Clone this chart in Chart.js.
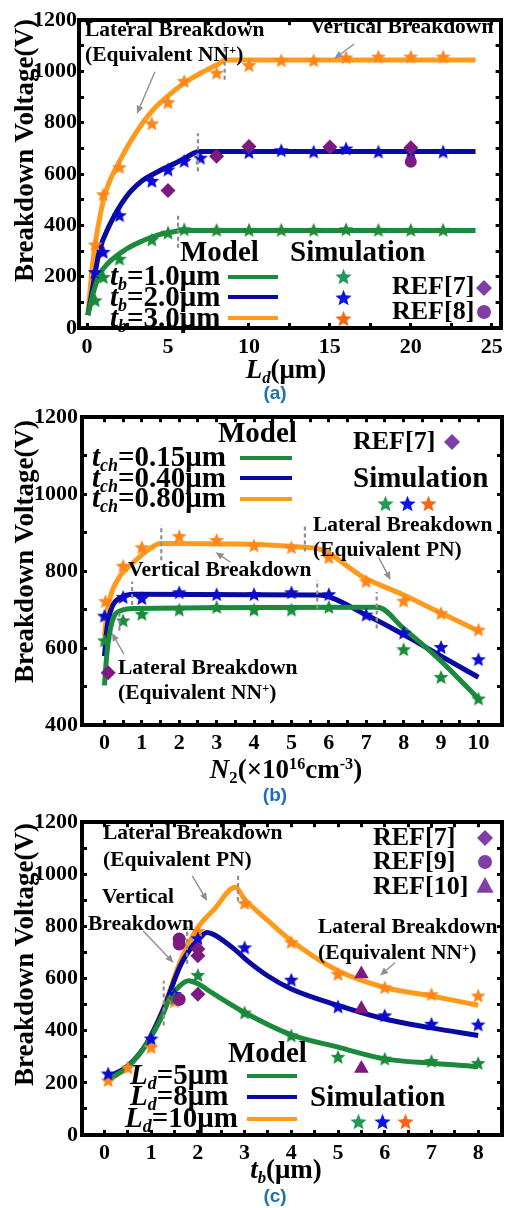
<!DOCTYPE html>
<html><head><meta charset="utf-8">
<script src="https://cdn.jsdelivr.net/npm/chart.js@4.4.1/dist/chart.umd.min.js"></script>
<style>
body{margin:0;background:#fff;}
#wrap{position:relative;width:514px;height:1208px;overflow:hidden;background:#fff;}
canvas{position:absolute;left:0;}
.t{position:absolute;white-space:nowrap;font-family:'Liberation Serif','Times New Roman',serif;font-weight:bold;color:#000;line-height:1;z-index:5;}
.cap{position:absolute;font-family:'Liberation Sans',Arial,sans-serif;font-weight:bold;color:#1f6fb3;line-height:1;z-index:5;text-align:center;}
.ln{position:absolute;height:4px;z-index:5;}
.sb{font-size:0.62em;position:relative;top:0.28em;font-style:italic;}
.sp{font-size:0.6em;position:relative;top:-0.55em;}
</style></head><body><div id="wrap">
<canvas id="ca" width="514" height="385" style="top:0px"></canvas>
<canvas id="cb" width="514" height="385" style="top:395px"></canvas>
<canvas id="cc" width="514" height="385" style="top:800px"></canvas>
</div>
<script>
// ---------- Panel (a): breakdown voltage vs Ld ----------
const aModel10X = [0.05,0.35,0.75,1.35,2.4,3.4,4.45,5.5,5.75,24];
const aModel10Y = [50,130,206,256,307,339,364,377,380,380];
const aModel20X = [0.05,0.35,0.75,1.35,2.4,3.4,4.45,5.5,6.2,6.9,24];
const aModel20Y = [50,158,298,396,510,574,612,644,668,688,688];
const aModel30X = [0.05,0.35,0.75,1.15,2,3,4,5,6,7,8,8.6,24];
const aModel30Y = [50,256,420,530,650,760,845,905,955,993,1025,1045,1045];
const aSim10X = [0.5,1,2,4,5,6,8,10,12,14,16,18,20,22];
const aSim10Y = [108,199,270,345,372,385,383,383,383,383,385,383,383,383];
const aSim20X = [0.5,1,2,4,5,6,7,10,12,14,16,18,20,22];
const aSim20Y = [218,297,440,574,618,652,664,686,693,688,700,688,688,688];
const aSim30X = [0.5,1,2,4,5,6,8,10,12,14,16,18,20,22];
const aSim30Y = [326,521,627,798,880,963,995,1025,1044,1044,1055,1058,1058,1058];
const aRef7X = [5,8,10,15,20];
const aRef7Y = [536,670,708,706,703];
const aRef8X = [20];
const aRef8Y = [648];
const aXTicks = [0,2.5,5,7.5,10,12.5,15,17.5,20,22.5,25];
const aXLabels = [0,5,10,15,20,25];
const aYTicks = [0,100,200,300,400,500,600,700,800,900,1000,1100,1200];
const aYLabels = [0,200,400,600,800,1000,1200];

// ---------- Panel (b): breakdown voltage vs N2 ----------
const bModel015X = [0,0.07,0.2,0.43,0.8,7.3,8,9,10];
const bModel015Y = [503,590,667,697,703,706,651,566,468];
const bModel040X = [0,0.07,0.2,0.43,0.8,5.7,7,8,9,10];
const bModel040Y = [579,652,706,731,740,738,686,635,579,524];
const bModel080X = [0,0.07,0.2,0.43,0.78,1.14,1.5,5.6,7,8,9,10];
const bModel080Y = [631,695,746,789,823,853,872,860,780,738,691,644];
const bSim015X = [0,0.5,1,2,3,4,5,6,8,9,10];
const bSim015Y = [620,672,689,700,707,700,700,707,597,525,469];
const bSim040X = [0,0.5,1,2,3,4,5,6,7,8,9,10];
const bSim040Y = [684,733,730,745,740,740,745,740,687,640,603,571];
const bSim080X = [0.03,0.5,1,2,3,4,5,6,7,8,9,10];
const bSim080Y = [722,814,862,891,881,867,862,836,774,723,691,648];
const bRef7X = [0.1];
const bRef7Y = [536];
const bXTicks = [0,0.5,1,1.5,2,2.5,3,3.5,4,4.5,5,5.5,6,6.5,7,7.5,8,8.5,9,9.5,10];
const bXLabels = [0,1,2,3,4,5,6,7,8,9,10];
const bYTicks = [400,500,600,700,800,900,1000,1100,1200];
const bYLabels = [400,600,800,1000,1200];

// ---------- Panel (c): breakdown voltage vs tb ----------
const cModel5X = [0.08,0.5,0.9,1.27,1.38,1.6,1.8,2.0,2.34,3.05,4,5,6,7,8];
const cModel5Y = [212,262,348,470,520,570,592,580,541,465,384,337,292,275,262];
const cModel8X = [0.08,0.5,0.9,1.27,1.63,2.0,2.2,2.35,2.8,3.05,3.5,4,5,6,7,8];
const cModel8Y = [222,265,350,485,652,750,777,768,710,670,610,560,497,445,411,382];
const cModel10X = [0.08,0.5,0.9,1.27,1.63,2.0,2.35,2.8,3.0,3.5,4,5,6,7,8];
const cModel10Y = [210,263,350,490,669,796,866,950,905,822,745,630,566,533,498];
const cSim5X = [1.5,2,3,4,5,6,7,8];
const cSim5Y = [525,614,470,382,300,293,284,276];
const cSim8X = [0.08,1,1.5,2,3,4,5,6,7,8];
const cSim8Y = [236,370,541,755,720,596,493,459,427,424];
const cSim10X = [0.08,0.5,1,1.5,2,3,4,5,6,7,8];
const cSim10Y = [210,259,337,513,783,890,740,618,567,540,535];
const cRef7X = [2,2,2];
const cRef7Y = [714,688,540];
const cRef9X = [1.6,1.6,1.6];
const cRef9Y = [752,733,520];
const cRef10X = [5.5,5.5,5.5];
const cRef10Y = [618,484,255];
const cXTicks = [0,0.5,1,1.5,2,2.5,3,3.5,4,4.5,5,5.5,6,6.5,7,7.5,8];
const cXLabels = [0,1,2,3,4,5,6,7,8];
const cYTicks = [0,100,200,300,400,500,600,700,800,900,1000,1100,1200];
const cYLabels = [0,200,400,600,800,1000,1200];

// annotations in data units: dashed [x, v1, v2], arrows [x1, v1, x2, v2] (head at 2nd)
const aDashes = [[8.5,968,1107],[6.85,611,759],[5.62,313,440]];
const aArrows = [[4.19,999,3.08,835],[16.5,1107,15.27,1050]];
const bDashes = [[1.52,828,920],[0.74,712,772],[0.4,645,690],[5.36,851,916],[5.69,703,777],[7.28,651,746]];
const bArrows = [[7.33,836,7.65,777],[3.37,823,2.97,849],[0.52,584,0.2,639]];
const cDashes = [[2.86,898,1006],[1.77,657,799],[1.27,420,592]];
const cArrows = [[1.88,994,2.2,898],[0.83,783,1.48,661],[6.22,661,5.9,612]];

// ---------- styling ----------
const SER = "'Liberation Serif','Times New Roman',serif";
const GREEN = '#1c8a3c', BLUE = '#0a0aa0', ORANGE = '#ff9a1c';
const SGREEN = '#1b8a3b', SBLUE = '#0a0ad0', SORANGE = '#ff861a';
const PURPLE = '#7d1a80', LPURPLE = '#7f3fa6';

function starImg(color, r) {
  const c = document.createElement('canvas');
  const s = Math.ceil(2 * r + 2); c.width = s; c.height = s;
  const g = c.getContext('2d'); g.fillStyle = color; g.beginPath();
  for (let i = 0; i < 10; i++) {
    const rr = i % 2 ? r * 0.45 : r; const a = -Math.PI / 2 + i * Math.PI / 5;
    g.lineTo(s / 2 + rr * Math.cos(a), s / 2 + rr * Math.sin(a) + r * 0.1);
  }
  g.closePath(); g.fill(); return c;
}
function shapeImg(kind, color, r) {
  const c = document.createElement('canvas');
  const s = Math.ceil(2 * r + 2); c.width = s; c.height = s;
  const g = c.getContext('2d'); g.fillStyle = color; g.beginPath();
  const m = s / 2;
  if (kind === 'diamond') { g.moveTo(m, m - r); g.lineTo(m + r, m); g.lineTo(m, m + r); g.lineTo(m - r, m); }
  else if (kind === 'circle') { g.arc(m, m, r, 0, Math.PI * 2); }
  else { g.moveTo(m, m - r); g.lineTo(m + r * 0.95, m + r * 0.75); g.lineTo(m - r * 0.95, m + r * 0.75); }
  g.closePath(); g.fill(); return c;
}
const P = (xs, ys) => xs.map((v, i) => ({x: v, y: ys[i]}));
const lineDS = (d, color) => ({data: d, showLine: true, borderColor: color, backgroundColor: color, borderWidth: 5, pointRadius: 0, cubicInterpolationMode: 'monotone', order: 3, clip: false});
const starDS = (d, color) => ({data: d, pointStyle: starImg(color, 7.8), pointRadius: 7, showLine: false, order: 2, clip: false});
const refDS = (d, style, color, r) => ({data: d, pointStyle: style, pointRadius: r, backgroundColor: color, borderColor: color, borderWidth: 0, showLine: false, order: 1, clip: false});

const ANN = {ca: [aDashes, aArrows], cb: [bDashes, bArrows], cc: [cDashes, cArrows]};
const annot = {
  id: 'annot',
  afterDatasetsDraw(chart) {
    const A = ANN[chart.canvas.id]; if (!A) return;
    const {ctx} = chart; const xs = chart.scales.x, ys = chart.scales.y;
    ctx.save();
    ctx.strokeStyle = '#8f8f8f'; ctx.lineWidth = 2.2; ctx.setLineDash([4, 3]);
    A[0].forEach(d => { const px = xs.getPixelForValue(d[0]); ctx.beginPath(); ctx.moveTo(px, ys.getPixelForValue(d[1])); ctx.lineTo(px, ys.getPixelForValue(d[2])); ctx.stroke(); });
    ctx.setLineDash([]); ctx.lineWidth = 1.4; ctx.fillStyle = '#8f8f8f'; ctx.strokeStyle = '#8f8f8f';
    A[1].forEach(a => {
      const x1 = xs.getPixelForValue(a[0]), y1 = ys.getPixelForValue(a[1]);
      const x2 = xs.getPixelForValue(a[2]), y2 = ys.getPixelForValue(a[3]);
      const ang = Math.atan2(y2 - y1, x2 - x1), L = 8, W = 3.5;
      const bx = x2 - L * Math.cos(ang), by = y2 - L * Math.sin(ang);
      ctx.beginPath(); ctx.moveTo(x1, y1); ctx.lineTo(bx, by); ctx.stroke();
      ctx.beginPath(); ctx.moveTo(x2, y2);
      ctx.lineTo(bx + W * Math.sin(ang), by - W * Math.cos(ang));
      ctx.lineTo(bx - W * Math.sin(ang), by + W * Math.cos(ang));
      ctx.closePath(); ctx.fill();
    });
    ctx.restore();
  }
};

function mkChart(id, p) {
  const grid = {display: true, drawOnChartArea: false, drawTicks: true, tickLength: -5, tickWidth: 3, color: '#000'};
  const border = {display: true, width: 4, color: '#000'};
  const font = {family: SER, weight: 'bold', size: 22};
  const setT = arr => s => { s.ticks = arr.map(v => ({value: v})); };
  return new Chart(document.getElementById(id), {
    type: 'scatter',
    data: {datasets: p.datasets},
    options: {
      responsive: false, animation: false, devicePixelRatio: 1,
      layout: {padding: {left: 0, right: 12, top: p.padTop, bottom: 0}},
      plugins: {legend: {display: false}, tooltip: {enabled: false}},
      scales: {
        x: {type: 'linear', position: 'bottom', min: p.xmin, max: p.xmax, afterBuildTicks: setT(p.xt), afterFit: s => { s.height = p.xH; },
            ticks: {autoSkip: false, maxRotation: 0, minRotation: 0, padding: p.xPad, color: '#000', font, callback: v => p.xl.includes(v) ? String(v) : ''}, grid, border},
        x2: {type: 'linear', position: 'top', min: p.xmin, max: p.xmax, afterBuildTicks: setT(p.xt), afterFit: s => { s.height = 0; }, ticks: {display: false}, grid, border},
        y: {type: 'linear', position: 'left', min: p.ymin, max: p.ymax, afterBuildTicks: setT(p.yt), afterFit: s => { s.width = p.yW; },
            ticks: {autoSkip: false, padding: p.yPad, color: '#000', font, callback: v => p.yl.includes(v) ? String(v) : ''}, grid, border},
        y2: {type: 'linear', position: 'right', min: p.ymin, max: p.ymax, afterBuildTicks: setT(p.yt), afterFit: s => { s.width = 0; }, ticks: {display: false}, grid, border}
      }
    },
    plugins: [annot]
  });
}

mkChart('ca', {
  padTop: 12, xH: 57, yW: 79, xPad: 11, yPad: 7,
  xmin: -0.5, xmax: 25.55, xt: aXTicks, xl: aXLabels, ymin: 0, ymax: 1200, yt: aYTicks, yl: aYLabels,
  datasets: [
    refDS(P(aRef7X, aRef7Y), 'rectRot', PURPLE, 7.5), refDS(P(aRef8X, aRef8Y), 'circle', PURPLE, 6),
    starDS(P(aSim10X, aSim10Y), SGREEN), starDS(P(aSim20X, aSim20Y), SBLUE), starDS(P(aSim30X, aSim30Y), SORANGE),
    lineDS(P(aModel10X, aModel10Y), GREEN), lineDS(P(aModel20X, aModel20Y), BLUE), lineDS(P(aModel30X, aModel30Y), ORANGE)
  ]
});
mkChart('cb', {
  padTop: 18, xH: 55, yW: 82, xPad: 10, yPad: 9,
  xmin: -0.6, xmax: 10.63, xt: bXTicks, xl: bXLabels, ymin: 400, ymax: 1200, yt: bYTicks, yl: bYLabels,
  datasets: [
    refDS(P(bRef7X, bRef7Y), 'rectRot', PURPLE, 7.5),
    starDS(P(bSim015X, bSim015Y), SGREEN), starDS(P(bSim040X, bSim040Y), SBLUE), starDS(P(bSim080X, bSim080Y), SORANGE),
    lineDS(P(bModel015X, bModel015Y), GREEN), lineDS(P(bModel040X, bModel040Y), BLUE), lineDS(P(bModel080X, bModel080Y), ORANGE)
  ]
});
mkChart('cc', {
  padTop: 21, xH: 50, yW: 82, xPad: 10, yPad: 9,
  xmin: -0.48, xmax: 8.51, xt: cXTicks, xl: cXLabels, ymin: 0, ymax: 1200, yt: cYTicks, yl: cYLabels,
  datasets: [
    refDS(P(cRef7X, cRef7Y), 'rectRot', PURPLE, 7.5), refDS(P(cRef9X, cRef9Y), 'circle', PURPLE, 6.5), refDS(P(cRef10X, cRef10Y), 'triangle', PURPLE, 8.5),
    starDS(P(cSim5X, cSim5Y), SGREEN), starDS(P(cSim8X, cSim8Y), SBLUE), starDS(P(cSim10X, cSim10Y), SORANGE),
    lineDS(P(cModel5X, cModel5Y), GREEN), lineDS(P(cModel8X, cModel8Y), BLUE), lineDS(P(cModel10X, cModel10Y), ORANGE)
  ]
});

// ---------- overlay texts and legends ----------
const wrap = document.getElementById('wrap');
function T(html, x, yc, size, style) {
  const d = document.createElement('div'); d.className = 't'; d.innerHTML = html;
  d.style.fontSize = size + 'px'; d.style.left = x + 'px'; d.style.top = (yc - size * 0.52) + 'px';
  if (style) Object.assign(d.style, style);
  wrap.appendChild(d); return d;
}
function TC(html, cx, yc, size) { return T(html, cx - 170, yc, size, {width: '340px', textAlign: 'center'}); }
function YT(cy) { return T('Breakdown Voltage(V)', 24 - 170, cy, 27, {width: '340px', textAlign: 'center', transform: 'rotate(-90deg)'}); }
function CAP(txt, cy) { const d = document.createElement('div'); d.className = 'cap'; d.textContent = txt; d.style.fontSize = '19px'; d.style.left = '235px'; d.style.width = '80px'; d.style.top = (cy - 10) + 'px'; wrap.appendChild(d); }
function LN(x, y, w, color) { const d = document.createElement('div'); d.className = 'ln'; d.style.left = x + 'px'; d.style.top = (y - 2) + 'px'; d.style.width = w + 'px'; d.style.background = color; wrap.appendChild(d); }
function SYM(c, cx, cy) { c.style.left = (cx - c.width / 2) + 'px'; c.style.top = (cy - c.height / 2) + 'px'; c.style.zIndex = 6; c.style.position = 'absolute'; wrap.appendChild(c); }
const NNp = 'NN<span class="sp">+</span>';

// Panel (a)
YT(151);
T('Lateral Breakdown', 85, 30, 21.5);
T('(Equivalent ' + NNp + ')', 85, 55, 21.5);
T('Vertical Breakdown', 310, 27, 21.5);
T('Model', 180, 252, 29);
T('Simulation', 290, 252, 29);
T('<i>t</i><span class="sb">b</span>=1.0μm', 110, 276, 29);
T('<i>t</i><span class="sb">b</span>=2.0μm', 110, 297, 29);
T('<i>t</i><span class="sb">b</span>=3.0μm', 110, 318, 29);
LN(228, 277, 50, GREEN); LN(228, 297, 50, BLUE); LN(228, 318, 50, ORANGE);
SYM(starImg('#239b56', 8.5), 343, 276); SYM(starImg('#0b17e0', 8.5), 343, 297); SYM(starImg('#f96512', 8.5), 343, 318);
T('REF[7]', 392, 287, 26); SYM(shapeImg('diamond', LPURPLE, 8), 484, 288);
T('REF[8]', 392, 312, 26); SYM(shapeImg('circle', LPURPLE, 7), 484, 312);
TC('<i>L</i><span class="sb">d</span>(μm)', 286, 370, 27);
CAP('(a)', 393);

// Panel (b)
YT(552);
T('Model', 218, 433, 29);
T('<i>t</i><span class="sb">ch</span>=0.15μm', 92, 457, 29);
T('<i>t</i><span class="sb">ch</span>=0.40μm', 92, 478, 29);
T('<i>t</i><span class="sb">ch</span>=0.80μm', 92, 498, 29);
LN(240, 458, 52, GREEN); LN(240, 478, 52, BLUE); LN(240, 499, 52, ORANGE);
T('REF[7]', 353, 442, 26); SYM(shapeImg('diamond', LPURPLE, 8), 452, 442);
T('Simulation', 353, 478, 29);
SYM(starImg('#239b56', 8.5), 385, 503); SYM(starImg('#0b17e0', 8.5), 407, 503); SYM(starImg('#f96512', 8.5), 428, 503);
T('Lateral Breakdown', 313, 525, 21.5);
T('(Equivalent PN)', 313, 550, 21.5);
T('Vertical Breakdown', 128, 570, 21.5);
T('Lateral Breakdown', 118, 668, 21.5);
T('(Equivalent ' + NNp + ')', 118, 693, 21.5);
TC('<i>N</i><span class="sb" style="font-style:normal">2</span>(×10<span class="sp">16</span>cm<span class="sp">-3</span>)', 286, 770, 27);
CAP('(b)', 795);

// Panel (c)
YT(955);
T('Lateral Breakdown', 103, 833, 21.5);
T('(Equivalent PN)', 103, 860, 21.5);
T('REF[7]', 373, 838, 26); SYM(shapeImg('diamond', LPURPLE, 8), 485, 838);
T('REF[9]', 373, 862, 26); SYM(shapeImg('circle', LPURPLE, 7), 485, 862);
T('REF[10]', 373, 887, 26); SYM(shapeImg('triangle', LPURPLE, 9), 485, 886);
T('Vertical', 102, 897, 21.5);
T('Breakdown', 88, 924, 21.5);
T('Lateral Breakdown', 318, 927, 21.5);
T('(Equivalent ' + NNp + ')', 318, 953, 21.5);
T('Model', 228, 1053, 29);
T('<i>L</i><span class="sb">d</span>=5μm', 130, 1075, 29);
T('<i>L</i><span class="sb">d</span>=8μm', 130, 1096, 29);
T('<i>L</i><span class="sb">d</span>=10μm', 125, 1118, 29);
LN(247, 1076, 50, GREEN); LN(247, 1097, 50, BLUE); LN(247, 1119, 50, ORANGE);
T('Simulation', 310, 1097, 29);
SYM(starImg('#239b56', 8.5), 358, 1121); SYM(starImg('#0b17e0', 8.5), 382, 1121); SYM(starImg('#f96512', 8.5), 405, 1121);
TC('<i>t</i><span class="sb">b</span>(μm)', 286, 1170, 27);
CAP('(c)', 1196);
</script></body></html>
